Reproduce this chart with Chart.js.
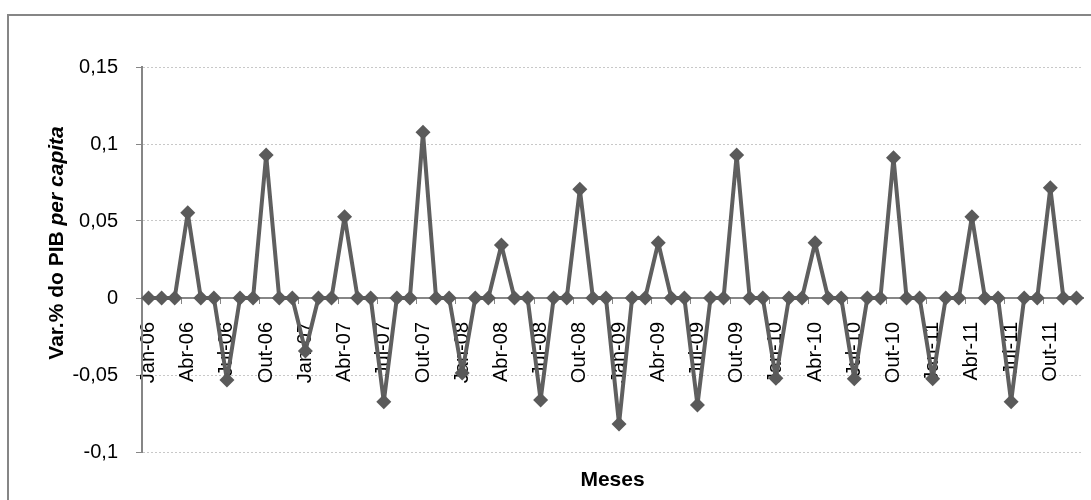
<!DOCTYPE html>
<html>
<head>
<meta charset="utf-8">
<script src="https://cdn.jsdelivr.net/npm/chart.js@4"></script>
<style>
  body { margin: 0; background: #fff; }
</style>
</head>
<body>
<canvas id="pibChart" width="1091" height="500"></canvas>
<script>
const meses = ['Jan', 'Fev', 'Mar', 'Abr', 'Mai', 'Jun', 'Jul', 'Ago', 'Set', 'Out', 'Nov', 'Dez']
const anos = ['06', '07', '08', '09', '10', '11']

// var.% do PIB per capita, mes a mes
const var2006 = [0, 0, 0, 0.0554, 0, 0, -0.0532, 0, 0, 0.0929, 0, 0]
const var2007 = [-0.0344, 0, 0, 0.0528, 0, 0, -0.0673, 0, 0, 0.1076, 0, 0]
const var2008 = [-0.0487, 0, 0, 0.0344, 0, 0, -0.0662, 0, 0, 0.0706, 0, 0]
const var2009 = [-0.0818, 0, 0, 0.0359, 0, 0, -0.0695, 0, 0, 0.0929, 0, 0]
const var2010 = [-0.0521, 0, 0, 0.0359, 0, 0, -0.0525, 0, 0, 0.0911, 0, 0]
const var2011 = [-0.0525, 0, 0, 0.0528, 0, 0, -0.0673, 0, 0, 0.0716, 0, 0]

const yTicks = [-0.1, -0.05, 0, 0.05, 0.1, 0.15]

const labels = []
anos.forEach(a => meses.forEach(m => labels.push(m + '-' + a)))
const valores = [].concat(var2006, var2007, var2008, var2009, var2010, var2011)

const fonte = "'Liberation Sans', Arial, sans-serif"
const cinzaEixo = '#868686'

// moldura e titulos dos eixos
const extras = {
    id: 'extras',
    beforeDraw(chart) {
        const ctx = chart.ctx
        ctx.save()
        ctx.fillStyle = '#fff'
        ctx.fillRect(0, 0, chart.width, chart.height)
        ctx.strokeStyle = cinzaEixo
        ctx.lineWidth = 2
        ctx.strokeRect(8, 15, chart.width + 20, chart.height + 20)
        ctx.restore()
    },
    afterDraw(chart) {
        const ctx = chart.ctx
        const area = chart.chartArea
        ctx.save()
        ctx.fillStyle = '#000'
        // titulo x
        ctx.font = "bold 21px " + fonte
        ctx.textAlign = 'center'
        ctx.textBaseline = 'middle'
        ctx.fillText('Meses', (area.left + area.right) / 2, 480)
        // titulo y com "per capita" em italico
        const t1 = 'Var.% do PIB '
        const t2 = 'per capita'
        ctx.translate(57, 243)
        ctx.rotate(-Math.PI / 2)
        ctx.font = "bold 21px " + fonte
        const w1 = ctx.measureText(t1).width
        ctx.font = "italic bold 21px " + fonte
        const w2 = ctx.measureText(t2).width
        let x = -(w1 + w2) / 2
        ctx.textAlign = 'left'
        ctx.font = "bold 21px " + fonte
        ctx.fillText(t1, x, 0)
        ctx.font = "italic bold 21px " + fonte
        ctx.fillText(t2, x + w1, 0)
        ctx.restore()
    }
}

let chartobj = document.getElementById('pibChart')
let lineChart = new Chart(chartobj, {
    type: 'line',
    data: {
        labels: labels,
        datasets: [{
            label: 'Var.% do PIB per capita',
            data: valores,
            borderColor: '#5f5f5f',
            borderWidth: 4,
            borderJoinStyle: 'round',
            tension: 0,
            pointStyle: 'rectRot',
            pointRadius: 7.5,
            pointBackgroundColor: '#5a5a5a',
            pointBorderWidth: 0
        }]
    },
    options: {
        responsive: false,
        animation: false,
        layout: { padding: { left: 0, top: 67, right: 8, bottom: 48 } },
        plugins: {
            legend: { display: false },
            tooltip: { enabled: false }
        },
        scales: {
            x: {
                type: 'category',
                position: { y: 0 },
                offset: true,
                afterFit: s => { s.paddingLeft = 0; s.paddingRight = 0 },
                grid: {
                    display: true,
                    offset: true,
                    drawOnChartArea: false,
                    drawTicks: true,
                    tickLength: 5,
                    tickColor: c => c.index % 3 === 0 ? cinzaEixo : 'rgba(0,0,0,0)'
                },
                border: { color: cinzaEixo, width: 2 },
                ticks: {
                    autoSkip: false,
                    maxRotation: 90,
                    minRotation: 90,
                    padding: 19,
                    color: '#000',
                    font: { family: fonte, size: 20 },
                    callback: function (v, i) { return i % 3 === 0 ? labels[i] : '' }
                }
            },
            y: {
                min: yTicks[0],
                max: yTicks[yTicks.length - 1],
                afterFit: s => { s.width = 142 },
                afterBuildTicks: s => { s.ticks = yTicks.map(v => ({ value: v })) },
                grid: {
                    color: '#c8c8c8',
                    lineWidth: 1,
                    tickColor: cinzaEixo,
                    tickLength: 6
                },
                border: { color: cinzaEixo, width: 2, dash: [2, 2] },
                ticks: {
                    padding: 18,
                    color: '#000',
                    font: { family: fonte, size: 20 },
                    callback: v => String(Math.round(v * 100) / 100).replace('.', ',')
                }
            }
        }
    },
    plugins: [extras]
});
</script>
</body>
</html>
